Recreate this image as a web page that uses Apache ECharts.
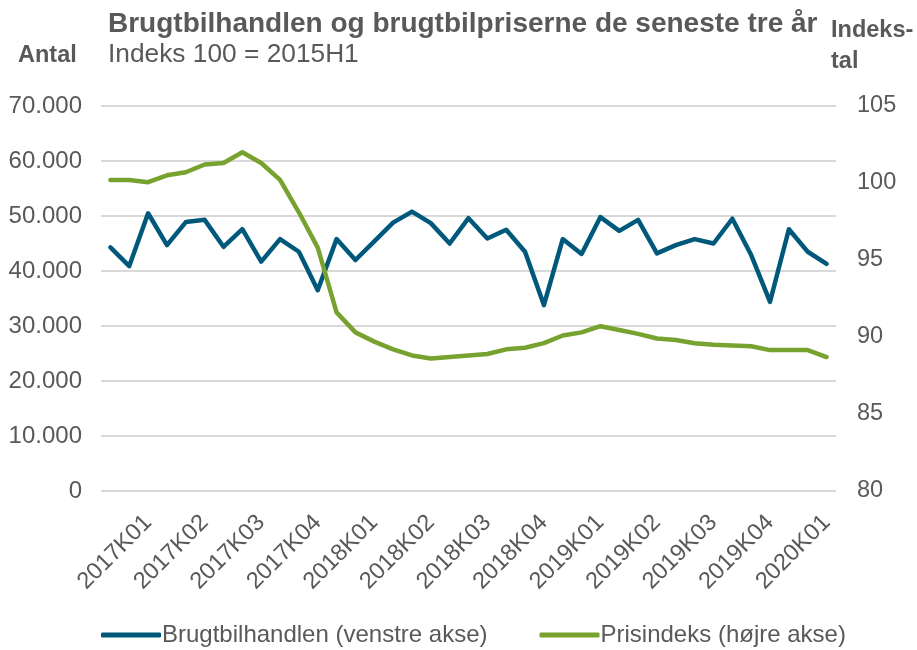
<!DOCTYPE html>
<html>
<head>
<meta charset="utf-8">
<script src="https://cdn.jsdelivr.net/npm/echarts@6/dist/echarts.min.js"></script>
<style>
  html, body { margin: 0; padding: 0; background: #fff; }
  #chart { width: 917px; height: 650px; }
</style>
</head>
<body>
<div id="chart"></div>
<script>
// maaneder 2017M01 - 2020M03
const months = [
  "2017M01", "2017M02", "2017M03", "2017M04", "2017M05", "2017M06",
  "2017M07", "2017M08", "2017M09", "2017M10", "2017M11", "2017M12",
  "2018M01", "2018M02", "2018M03", "2018M04", "2018M05", "2018M06",
  "2018M07", "2018M08", "2018M09", "2018M10", "2018M11", "2018M12",
  "2019M01", "2019M02", "2019M03", "2019M04", "2019M05", "2019M06",
  "2019M07", "2019M08", "2019M09", "2019M10", "2019M11", "2019M12",
  "2020M01", "2020M02", "2020M03"
];
// kvartalslabels (vises ved sidste maaned i kvartalet)
const quarterLabels = [
  "2017K01", "2017K02", "2017K03", "2017K04",
  "2018K01", "2018K02", "2018K03", "2018K04",
  "2019K01", "2019K02", "2019K03", "2019K04",
  "2020K01"
];
// brugtbilhandlen (venstre akse)
const handel = [
  44300, 40900, 50500, 44700, 48900, 49300, 44400, 47600, 41700, 45800, 43500, 36500,
  45800, 42000, 45400, 48800, 50800, 48700, 45000, 49600, 45900, 47500, 43500, 33800,
  45800, 43100, 49800, 47300, 49300, 43200, 44700, 45800, 45000, 49500, 42900, 34400,
  47600, 43500, 41300
];
// prisindeks (hoejre akse)
const prisindeks = [
  100.2, 100.2, 100.05, 100.5, 100.7, 101.2, 101.3, 102.0, 101.3, 100.2, 98.1, 95.8,
  91.6, 90.3, 89.7, 89.2, 88.8, 88.6, 88.7, 88.8, 88.9, 89.2, 89.3, 89.6,
  90.1, 90.3, 90.7, 90.45, 90.2, 89.9, 89.8, 89.6, 89.5, 89.45, 89.4, 89.15,
  89.15, 89.15, 88.7
];

const textColor = "#595959";
const font = "Liberation Sans, Arial, sans-serif";

const chart = echarts.init(document.getElementById("chart"));

//tusindtalsseparator med punktum
function fmtThousands(v) {
  return String(v).replace(/\B(?=(\d{3})+(?!\d))/g, ".");
}

let options = {
  animation: false,
  textStyle: { fontFamily: font },
  title: [
    {
      text: "Brugtbilhandlen og brugtbilpriserne de seneste tre år",
      left: 103, top: 5,
      textStyle: { fontSize: 28, fontWeight: "bold", color: textColor, fontFamily: font }
    },
    {
      text: "Indeks 100 = 2015H1",
      left: 103, top: 37,
      textStyle: { fontSize: 26.3, fontWeight: "normal", color: textColor, fontFamily: font }
    },
    {
      text: "Antal",
      left: 13, top: 39,
      textStyle: { fontSize: 23.5, fontWeight: "bold", color: textColor, fontFamily: font }
    },
    {
      text: "Indeks-\ntal",
      left: 826, top: 10,
      textStyle: { fontSize: 23.5, fontWeight: "bold", color: textColor, fontFamily: font, lineHeight: 31, align: "center", width: 92 }
    }
  ],
  grid: { left: 101, right: 81, top: 106, bottom: 159, containLabel: false },
  legend: {
    bottom: -2,
    left: 96,
    itemGap: 52,
    itemWidth: 60,
    itemHeight: 5,
    icon: "roundRect",
    textStyle: { fontSize: 24, color: textColor, fontFamily: font, padding: [0, 0, 0, -4] },
    data: ["Brugtbilhandlen (venstre akse)", "Prisindeks (højre akse)"]
  },
  xAxis: {
    type: "category",
    data: months,
    boundaryGap: true,
    axisLine: { show: false },
    axisTick: { show: false },
    axisLabel: {
      interval: function (index) { return index % 3 === 2; },
      formatter: function (value, index) { return quarterLabels[(index - 2) / 3]; },
      rotate: 45,
      margin: 28,
      fontSize: 23.5,
      color: textColor,
      fontFamily: font
    }
  },
  yAxis: [
    {
      type: "value",
      min: 0, max: 70000, interval: 10000,
      axisLine: { show: false },
      axisTick: { show: false },
      splitLine: { lineStyle: { color: "#d9d9d9", width: 2 } },
      axisLabel: {
        formatter: fmtThousands,
        fontSize: 24, color: textColor, margin: 19, fontFamily: font
      }
    },
    {
      type: "value",
      min: 80, max: 105, interval: 5,
      axisLine: { show: false },
      axisTick: { show: false },
      splitLine: { show: false },
      axisLabel: { fontSize: 23.5, color: textColor, margin: 21, fontFamily: font }
    }
  ],
  series: [
    {
      name: "Brugtbilhandlen (venstre akse)",
      type: "line",
      yAxisIndex: 0,
      data: handel,
      symbol: "none",
      itemStyle: { color: "#00587a" },
      lineStyle: { color: "#00587a", width: 4.5, cap: "round", join: "round" }
    },
    {
      name: "Prisindeks (højre akse)",
      type: "line",
      yAxisIndex: 1,
      data: prisindeks,
      symbol: "none",
      itemStyle: { color: "#78a22f" },
      lineStyle: { color: "#78a22f", width: 4.5, cap: "round", join: "round" }
    }
  ]
};
//渲染
chart.setOption(options);
</script>
</body>
</html>
